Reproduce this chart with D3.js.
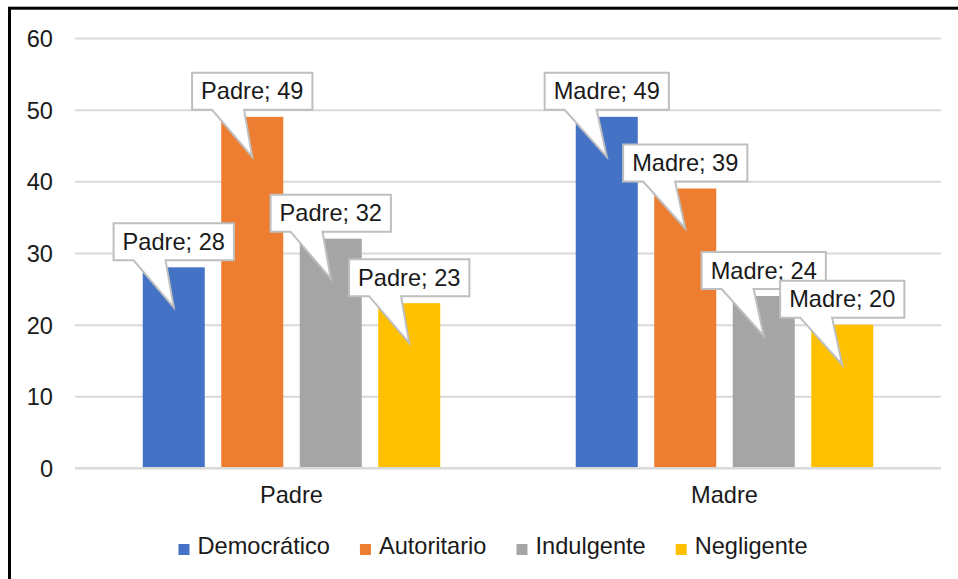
<!DOCTYPE html>
<html>
<head>
<meta charset="utf-8">
<script src="https://cdn.jsdelivr.net/npm/d3@7"></script>
<style>
	body { margin: 0; background: #fff; }
	svg { display: block; }
	text { font-family: "Liberation Sans", Arial, sans-serif; font-size: 23.6px; fill: #1a1a1a; }
</style>
</head>
<body>
<script>
(function(){
	// Data
	let categories = ['Padre', 'Madre'];
	let series = ['Democrático', 'Autoritario', 'Indulgente', 'Negligente'];
	let colors = ['#4472c4', '#ed7d31', '#a5a5a5', '#ffc000'];
	let padreValues = [28, 49, 32, 23];
	let madreValues = [49, 39, 24, 20];
	let yTicks = [0, 10, 20, 30, 40, 50, 60];

	let width = 958,
		height = 579,
		plot = {left: 75, right: 941, top: 38, bottom: 468};

	let values = [padreValues, madreValues];

	let svg = d3.select('body').append('svg')
		.attr('width', width)
		.attr('height', height);

	// Scales
	let groupGap = 135.5 / 433;
	let x0 = d3.scaleBand()
		.domain(categories)
		.range([plot.left, plot.right])
		.paddingInner(groupGap)
		.paddingOuter(groupGap / 2);
	let x1 = d3.scaleBand()
		.domain(series)
		.range([0, x0.bandwidth()])
		.paddingInner(0.21);
	let y = d3.scaleLinear()
		.domain([0, 60])
		.range([plot.bottom, plot.top]);
	let color = d3.scaleOrdinal()
		.domain(series)
		.range(colors);

	// Frame (only left and top edges are inside the picture)
	svg.append('rect')
		.attr('x', 9.5)
		.attr('y', 8.2)
		.attr('width', width + 20)
		.attr('height', height + 20)
		.attr('fill', 'none')
		.attr('stroke', '#000')
		.attr('stroke-width', 3);

	// Gridlines + tick labels
	let yAxis = d3.axisLeft(y)
		.tickValues(yTicks)
		.tickSize(-(plot.right - plot.left))
		.tickPadding(22);
	let yg = svg.append('g')
		.attr('transform', 'translate(' + plot.left + ',0)')
		.call(yAxis);
	yg.select('.domain').remove();
	yg.selectAll('.tick line')
		.attr('stroke', '#d9d9d9')
		.attr('stroke-width', 2);
	yg.selectAll('.tick text')
		.attr('fill', null)
		.attr('dy', '0.36em');
	yg.attr('font-size', null).attr('font-family', null);

	// Bars
	let rows = [];
	categories.forEach((cat, ci) => {
		series.forEach((s, si) => {
			rows.push({cat: cat, series: s, value: values[ci][si]});
		});
	});

	svg.append('g')
		.selectAll('rect')
		.data(rows).enter()
		.append('rect')
		.attr('x', d => x0(d.cat) + x1(d.series))
		.attr('y', d => y(d.value))
		.attr('width', x1.bandwidth())
		.attr('height', d => y(0) - y(d.value))
		.attr('fill', d => color(d.series));

	// Baseline redrawn above the bars
	svg.append('line')
		.attr('x1', plot.left)
		.attr('x2', plot.right)
		.attr('y1', y(0))
		.attr('y2', y(0))
		.attr('stroke', '#d9d9d9')
		.attr('stroke-width', 2);

	// Category labels
	svg.append('g')
		.selectAll('text')
		.data(categories).enter()
		.append('text')
		.attr('x', d => x0(d) + x0.bandwidth() / 2)
		.attr('y', 503)
		.attr('text-anchor', 'middle')
		.text(d => d);

	// Callouts, drawn one by one so later ones sit on top
	let callouts = svg.append('g');
	rows.forEach(d => {
		let cx = x0(d.cat) + x1(d.series) + x1.bandwidth() / 2,
			top = y(d.value),
			g = callouts.append('g');
		let t = g.append('text')
			.attr('text-anchor', 'middle')
			.text(d.cat + '; ' + d.value);
		let w = t.node().getComputedTextLength() + 18,
			h = 37,
			bx = cx - w / 2,
			by = top - 7 - h,
			tipY = top + 40;
		let path = d3.path();
		path.moveTo(bx, by);
		path.lineTo(bx + w, by);
		path.lineTo(bx + w, by + h);
		path.lineTo(bx + 52, by + h);
		path.lineTo(cx, tipY);
		path.lineTo(bx + 20, by + h);
		path.lineTo(bx, by + h);
		path.closePath();
		g.insert('path', 'text')
			.attr('d', path.toString())
			.attr('fill', '#fff')
			.attr('stroke', '#bfbfbf')
			.attr('stroke-width', 2)
			.attr('stroke-linejoin', 'miter');
		t.attr('x', cx).attr('y', by + 26.5);
	});

	// Legend
	let legend = svg.append('g');
	let items = legend.selectAll('g')
		.data(series).enter()
		.append('g');
	items.append('rect')
		.attr('width', 11)
		.attr('height', 11)
		.attr('y', -10)
		.attr('fill', d => color(d));
	items.append('text')
		.attr('x', 19)
		.attr('y', 0)
		.text(d => d);
	let offset = 0;
	items.each(function(){
		let tw = d3.select(this).select('text').node().getComputedTextLength();
		d3.select(this).attr('transform', 'translate(' + offset + ',0)');
		offset += 19 + tw + 30;
	});
	let total = offset - 30;
	legend.attr('transform', 'translate(' + (493 - total / 2) + ',' + 554 + ')');
})();
</script>
</body>
</html>
